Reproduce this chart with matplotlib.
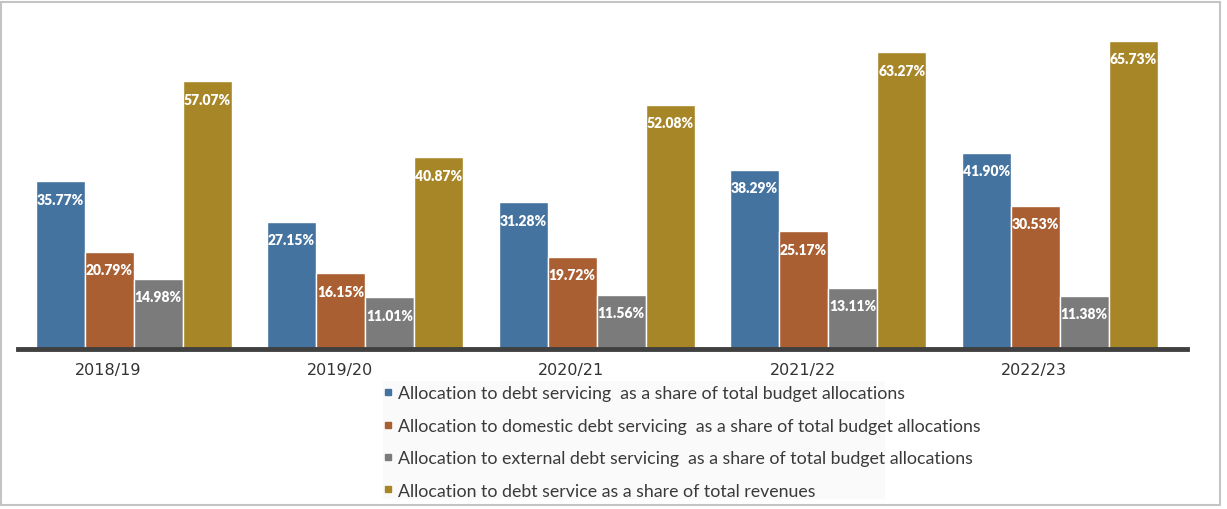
import matplotlib
matplotlib.use("Agg")
import matplotlib.pyplot as plt
import numpy as np
from matplotlib.lines import Line2D
from matplotlib.patches import Rectangle

# Data
###############################################################################
years = ["2018/19", "2019/20", "2020/21", "2021/22", "2022/23"]
debt_budget = [35.77, 27.15, 31.28, 38.29, 41.90]
domestic_budget = [20.79, 16.15, 19.72, 25.17, 30.53]
external_budget = [14.98, 11.01, 11.56, 13.11, 11.38]
debt_revenue = [57.07, 40.87, 52.08, 63.27, 65.73]

series_names = [
    "Allocation to debt servicing  as a share of total budget allocations",
    "Allocation to domestic debt servicing  as a share of total budget allocations",
    "Allocation to external debt servicing  as a share of total budget allocations",
    "Allocation to debt service as a share of total revenues",
]
colors = ["#4573A0", "#A95F31", "#7B7B7B", "#A78628"]

# Plot
###############################################################################
fig = plt.figure(figsize=(12.27, 5.10), dpi=100)
ax = fig.add_axes([18 / 1227, 1 - 350 / 510, (1187 - 18) / 1227, 330 / 510])

x = np.arange(len(years))
width = 0.212
all_series = [debt_budget, domestic_budget, external_budget, debt_revenue]

for i, (vals, col) in enumerate(zip(all_series, colors)):
    pos = x + (i - 1.5) * width
    ax.bar(pos, vals, width, color=col, edgecolor="white", linewidth=1)
    for px, v in zip(pos, vals):
        ax.annotate("{:.2f}%".format(v), (px, v), xytext=(0, -13),
                    textcoords="offset points", ha="center", va="center",
                    color="white", fontsize=10, fontweight="heavy",
                    family=["Lato", "DejaVu Sans"])

ax.set_xlim(-0.5, 4.55)
ax.set_ylim(0, 70.4)
ax.set_yticks([])
ax.set_xticks(x - 0.11)
ax.set_xticklabels(years, fontsize=11.5, color="#333333",
                   family=["DejaVu Sans"])
ax.tick_params(axis="x", length=0, pad=9)
for s in ["top", "right", "left"]:
    ax.spines[s].set_visible(False)
ax.spines["bottom"].set_color("#404040")
ax.spines["bottom"].set_linewidth(3.5)

# legend
fig.patches.append(Rectangle((383 / 1227, 1 - 500 / 510), 502 / 1227, 118 / 510,
                             transform=fig.transFigure, facecolor="#fafafa",
                             edgecolor="none", zorder=0))
handles = [Line2D([], [], marker="s", linestyle="none", markersize=5,
                  markerfacecolor=c, markeredgecolor=c) for c in colors]
leg = fig.legend(handles, series_names, loc="upper left",
                 bbox_to_anchor=(370 / 1227, 1 - 374 / 510),
                 frameon=False, handlelength=0.6, handletextpad=0.3,
                 labelspacing=0.92, borderpad=0.2,
                 prop={"family": ["Lato", "DejaVu Sans"], "size": 12.8})
for t in leg.get_texts():
    t.set_color("#3a3a3a")

# outer border
fig.patches.append(Rectangle((1 / 1227, 4 / 510), 1219 / 1227, 503 / 510,
                             transform=fig.transFigure, facecolor="none",
                             edgecolor="#c4c4c4", linewidth=1.5))

fig.savefig("out.png", dpi=100)
